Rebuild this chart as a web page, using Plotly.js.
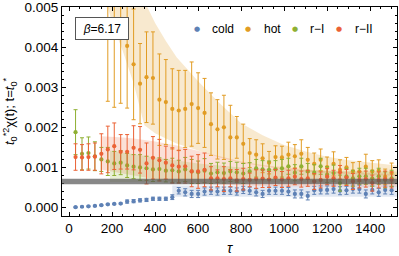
<!DOCTYPE html>
<html>
<head>
<meta charset="utf-8">
<script src="https://cdn.plot.ly/plotly-3.0.1.min.js"></script>
<style>html,body{margin:0;padding:0;background:#fff}#chart{width:399px;height:256px}</style>
</head>
<body>
<div id="chart"></div>
<script>
// Monte Carlo time
const tau = [30,60,90,120,150,180,210,240,270,300,330,360,390,420,450,480,510,540,570,600,
  630,660,690,720,750,780,810,840,870,900,930,960,990,1020,1050,1080,1110,1140,1170,1200,
  1230,1260,1290,1320,1350,1380,1410,1440,1470,1500];

// values in units of 1e-3
const coldY = [0.01,0.02,0.03,0.04,0.06,0.08,0.09,0.10,0.15,0.16,0.18,0.19,0.22,0.22,0.22,0.26,0.42,0.38,0.34,0.34,
  0.40,0.42,0.40,0.42,0.42,0.40,0.44,0.42,0.38,0.34,0.42,0.42,0.42,0.40,0.34,0.34,0.29,0.43,0.44,0.44,
  0.46,0.42,0.43,0.46,0.46,0.34,0.44,0.38,0.44,0.43];
const coldE = [0.015,0.015,0.015,0.015,0.015,0.015,0.015,0.015,0.04,0.04,0.04,0.04,0.04,0.04,0.04,0.06,0.08,0.09,0.09,0.09,
  0.09,0.09,0.09,0.09,0.09,0.09,0.09,0.09,0.09,0.09,0.09,0.09,0.09,0.1,0.1,0.1,0.1,0.1,0.1,0.1,
  0.1,0.1,0.1,0.1,0.1,0.1,0.1,0.1,0.1,0.1];

const hotY = [null,null,null,null,null,6.3,5.9,5.5,4.03,3.57,3.09,3.25,3.23,2.69,2.63,2.46,2.42,2.46,2.58,2.48,
  2.36,2.08,1.95,2.00,1.75,1.75,1.59,1.36,1.32,1.23,1.12,1.26,1.25,1.32,1.28,1.34,1.19,1.09,1.19,1.01,
  1.09,0.94,1.00,0.90,0.90,1.02,0.90,0.92,0.77,0.86];
const hotE = [null,null,null,null,null,3.65,3.4,2.9,1.55,1.38,1.0,1.13,1.15,1.14,1.06,1.0,1.0,0.96,1.05,0.88,
  0.86,0.78,0.74,0.8,0.8,0.52,0.49,0.36,0.37,0.36,0.28,0.28,0.28,0.31,0.29,0.35,0.31,0.27,0.27,0.25,
  0.3,0.25,0.25,0.22,0.25,0.31,0.27,0.27,0.19,0.25];

const rIY = [1.88,1.34,1.36,1.28,1.2,1.15,1.1,1.12,1.05,1.02,1.0,0.98,0.95,0.96,0.92,0.93,0.9,0.95,0.9,0.88,
  0.92,0.85,0.88,0.86,0.9,0.88,0.85,0.9,0.98,0.95,0.94,0.95,0.98,1.03,0.87,1.03,0.9,0.87,1.03,0.82,
  0.86,0.61,0.78,0.73,0.78,0.78,0.73,0.78,0.69,0.73];
const rIE = [0.56,0.4,0.4,0.36,0.3,0.35,0.3,0.3,0.3,0.3,0.32,0.3,0.3,0.28,0.28,0.3,0.28,0.3,0.3,0.28,
  0.3,0.25,0.25,0.25,0.25,0.25,0.25,0.22,0.22,0.22,0.22,0.22,0.22,0.2,0.2,0.2,0.2,0.2,0.2,0.2,
  0.2,0.2,0.2,0.2,0.2,0.2,0.2,0.2,0.2,0.2];

const rIIY = [1.26,1.25,1.26,1.27,1.34,1.45,1.53,1.39,1.39,1.49,1.44,1.10,1.24,1.18,1.12,1.05,1.02,1.03,0.90,0.90,
  0.94,0.73,0.73,0.71,0.73,0.68,0.71,0.69,0.71,0.72,0.70,0.75,0.70,0.73,0.77,0.71,0.73,0.65,0.69,0.77,
  0.73,0.88,0.75,0.65,0.69,0.71,0.61,0.69,0.71,0.69];
const rIIE = [0.33,0.32,0.33,0.34,0.5,0.58,0.58,0.43,0.43,0.55,0.58,0.51,0.53,0.52,0.41,0.44,0.41,0.42,0.38,0.42,
  0.42,0.29,0.21,0.31,0.21,0.27,0.27,0.17,0.23,0.22,0.2,0.2,0.2,0.2,0.2,0.2,0.2,0.2,0.2,0.2,
  0.2,0.17,0.2,0.2,0.2,0.2,0.2,0.2,0.2,0.2];

// fit bands (units 1e-3)
const hotBandT = [150,200,250,300,350,400,450,500,600,700,800,900,1000,1100,1200,1300,1400,1525];
const hotBandHi = [9.0,7.8,6.8,5.9,5.15,4.6,4.15,3.75,3.15,2.6,2.1,1.8,1.56,1.4,1.27,1.18,1.12,1.05];
const hotBandLo = [5.6,4.6,3.9,3.1,2.05,1.85,1.72,1.6,1.42,1.25,1.12,1.03,0.95,0.9,0.86,0.83,0.81,0.79];

const rIIBandT = [153,200,250,300,350,400,500,600,700,800,900,1000,1100,1200,1300,1400,1525];
const rIIBandHi = [1.78,1.77,1.75,1.72,1.69,1.65,1.55,1.42,1.28,1.15,1.06,1.0,0.95,0.91,0.88,0.86,0.84];
const rIIBandLo = [0.94,0.9,0.85,0.8,0.75,0.71,0.64,0.6,0.57,0.55,0.54,0.53,0.53,0.52,0.52,0.52,0.52];

const rIBandT = [190,250,300,400,500,600,700,800,900,1000,1100,1200,1300,1400,1525];
const rIBandHi = [1.42,1.38,1.33,1.25,1.17,1.1,1.05,1.0,0.97,0.95,0.93,0.92,0.91,0.9,0.9];
const rIBandLo = [0.64,0.64,0.64,0.63,0.63,0.62,0.62,0.62,0.62,0.62,0.62,0.62,0.62,0.62,0.62];

const coldBandT = [480,600,800,1000,1200,1400,1525];
const coldBandHi = [0.55,0.55,0.55,0.55,0.55,0.55,0.55];
const coldBandLo = [0.27,0.27,0.27,0.27,0.27,0.27,0.27];

const plateau = [0.58,0.72];

const yTicks = [0, 0.001, 0.002, 0.003, 0.004, 0.005];
const yTickText = ['0.000','0.001','0.002','0.003','0.004','0.005'];

const names = ['cold','hot','r\u2212I','r\u2212II'];
const colors = ['#5E81B5','#E19C24','#8FB032','#EB6235'];

const k = v => (v === null ? null : v * 1e-3);

function band(t, hi, lo, fill) {
  return {
    x: t.concat(t.slice().reverse()),
    y: hi.map(k).concat(lo.slice().reverse().map(k)),
    mode: 'lines', fill: 'toself', fillcolor: fill,
    line: {width: 0}, hoverinfo: 'skip', showlegend: false, type: 'scatter'
  };
}

function series(i, ys, es) {
  return {
    x: tau, y: ys.map(k), type: 'scatter', mode: 'markers', name: names[i], showlegend: false,
    marker: {color: colors[i], size: 4.2},
    error_y: {type: 'data', array: es.map(k), visible: true, color: colors[i], thickness: 1, width: 2}
  };
}

const traces = [
  band(hotBandT, hotBandHi, hotBandLo, 'rgba(225,156,36,0.22)'),
  band(rIIBandT, rIIBandHi, rIIBandLo, 'rgba(235,98,53,0.2)'),
  band(rIBandT, rIBandHi, rIBandLo, 'rgba(143,176,50,0.2)'),
  band(coldBandT, coldBandHi, coldBandLo, 'rgba(94,129,181,0.18)'),
  series(0, coldY, coldE),
  series(1, hotY, hotE),
  series(2, rIY, rIE),
  series(3, rIIY, rIIE)
];

const font = 'Liberation Sans, Arial, sans-serif';
const axisCommon = {
  showline: true, linecolor: '#000', linewidth: 1, mirror: 'allticks',
  ticks: 'inside', ticklen: 4, tickwidth: 1, tickcolor: '#000',
  showgrid: false, zeroline: false, ticklabeloverflow: 'allow',
  tickfont: {family: font, size: 13.5, color: '#000'}
};

// legend drawn as annotations (dot + label), positions in paper fractions
const legDotX = [0.403, 0.555, 0.6955, 0.827];
const legTxtX = [0.4418, 0.597, 0.734, 0.8687];
const legY = 0.895;
const legendAnn = [];
names.forEach((n, i) => {
  legendAnn.push({xref: 'paper', yref: 'paper', x: legDotX[i], y: legY, xanchor: 'center', yanchor: 'middle',
    text: '●', showarrow: false, font: {family: 'DejaVu Sans', size: 7, color: colors[i]}});
  legendAnn.push({xref: 'paper', yref: 'paper', x: legTxtX[i], y: legY, xanchor: 'left', yanchor: 'middle',
    text: n, showarrow: false, font: {family: font, size: 12, color: '#000'}});
});

const layout = {
  width: 399, height: 256,
  margin: {l: 62, r: 2, t: 7, b: 40},
  paper_bgcolor: '#fff', plot_bgcolor: '#fff',
  font: {family: font, color: '#000'},
  showlegend: false,
  xaxis: Object.assign({}, axisCommon, {
    range: [-33, 1525], tick0: 0, dtick: 200,
    minor: {ticks: 'inside', ticklen: 2, dtick: 50, tickcolor: '#000'},
    title: {text: '<i>τ</i>', font: {family: font, size: 14, color: '#000'}, standoff: 14}
  }),
  yaxis: Object.assign({}, axisCommon, {
    range: [-0.00021, 0.0050002], tickmode: 'array', tickvals: yTicks, ticktext: yTickText,
    minor: {ticks: 'inside', ticklen: 2, dtick: 0.0002, tick0: 0, tickcolor: '#000'},
    title: {text: '<i>t</i><sub>0</sub><sup>*2</sup>χ(t); t=<i>t</i><sub>0</sub><sup>*</sup>',
      font: {family: font, size: 13, color: '#000'}, standoff: 6}
  }),
  shapes: [{type: 'rect', xref: 'paper', x0: 0, x1: 1, yref: 'y', y0: plateau[0] * 1e-3, y1: plateau[1] * 1e-3,
    fillcolor: '#555', opacity: 0.7, line: {width: 0}, layer: 'above'}],
  annotations: [{xref: 'paper', yref: 'paper', x: 0.039, y: 0.897, xanchor: 'left', yanchor: 'middle',
    text: '<i>β</i>=6.17', showarrow: false, font: {family: font, size: 12, color: '#000'},
    bordercolor: '#555', borderwidth: 1, borderpad: 4, bgcolor: '#fff', width: 44, height: 13}].concat(legendAnn)
};

Plotly.newPlot('chart', traces, layout, {displayModeBar: false, staticPlot: true});
</script>
</body>
</html>
